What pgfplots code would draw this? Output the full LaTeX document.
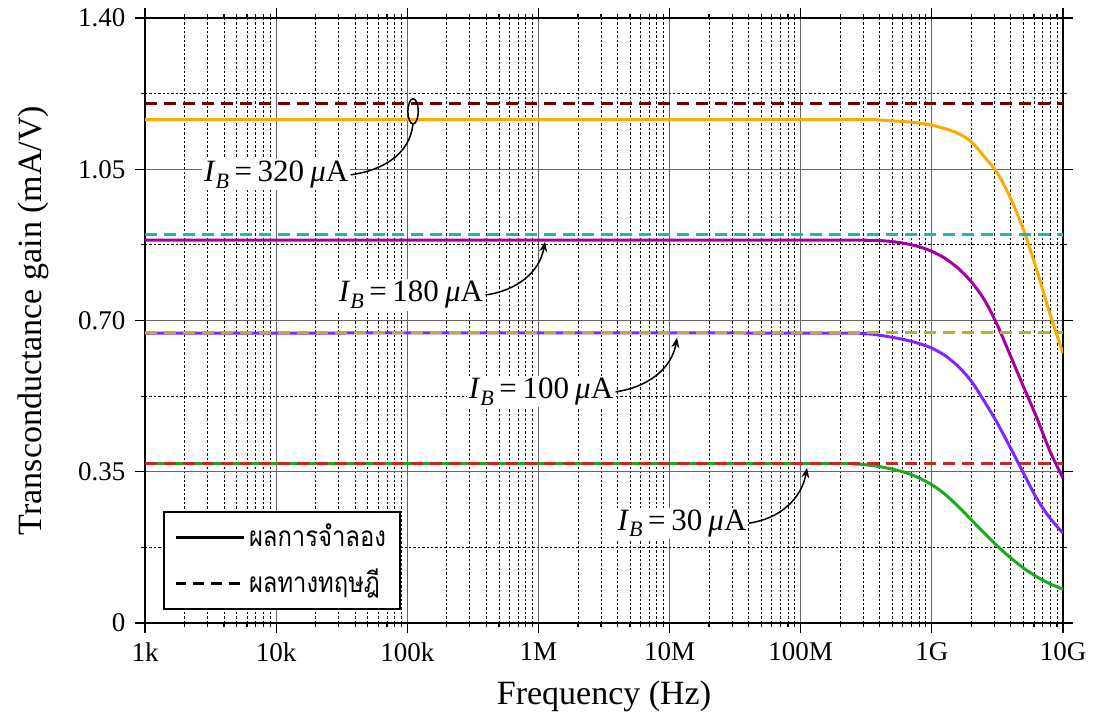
\documentclass[border=0pt]{standalone}
\usepackage{graphicx}
\usepackage{pgfplots}
\pgfplotsset{compat=1.18}
\usepackage{fontspec}
\setmainfont{Liberation Serif}
\newfontfamily\thaifont[Script=Thai]{Loma}
\usetikzlibrary{arrows.meta}

\definecolor{corange}{RGB}{255,170,0}
\definecolor{cmaroon}{RGB}{110,0,0}
\definecolor{cmag}{RGB}{165,0,165}
\definecolor{ccyan}{RGB}{32,180,180}
\definecolor{cviol}{RGB}{125,40,255}
\definecolor{colive}{RGB}{180,180,40}
\definecolor{cgreen}{RGB}{30,170,30}
\definecolor{cred}{RGB}{195,40,40}

\newcommand{\IB}[1]{\textit{I}\raisebox{-0.45ex}{\fontsize{11}{12}\selectfont\textit{B}}\hspace{0.18em}=\hspace{0.18em}#1\hspace{0.2em}\textit{μ}A}
\newcommand{\thtxt}[1]{\scalebox{0.85}[1]{\thaifont #1}}

\begin{document}
\fontsize{14}{16}\selectfont
\begin{tikzpicture}
\begin{axis}[
  scale only axis, width=459pt, height=302.5pt,
  xmode=log, log basis x=10,
  xmin=1e3, xmax=1e10, ymin=0, ymax=1.4,
  xtick={1e3,1e4,1e5,1e6,1e7,1e8,1e9,1e10},
  xticklabels={1k,10k,100k,1M,10M,100M,1G,10G},
  minor xtick={2e3,3e3,4e3,5e3,6e3,7e3,8e3,9e3,
               2e4,3e4,4e4,5e4,6e4,7e4,8e4,9e4,
               2e5,3e5,4e5,5e5,6e5,7e5,8e5,9e5,
               2e6,3e6,4e6,5e6,6e6,7e6,8e6,9e6,
               2e7,3e7,4e7,5e7,6e7,7e7,8e7,9e7,
               2e8,3e8,4e8,5e8,6e8,7e8,8e8,9e8,
               2e9,3e9,4e9,5e9,6e9,7e9,8e9,9e9},
  ytick={0,0.35,0.7,1.05,1.4},
  yticklabels={0,0.35,0.70,1.05,1.40},
  minor y tick num=1,
  grid=both,
  major grid style={black!60, line width=0.6pt},
  minor grid style={black, dash pattern=on 1.2pt off 1pt, line width=0.4pt},
  axis line style={black, line width=0.6pt},
  tick style={black, line width=0.6pt},
  tick align=outside, major tick length=5pt, minor tick length=2pt,
  xlabel={Frequency (Hz)},
  ylabel={Transconductance gain (mA/V)},
  ylabel shift=5pt,
  label style={font=\fontsize{17}{19}\selectfont},
  tick label style={font=\fontsize{13.5}{15}\selectfont},
  legend cell align=left,
  legend image code/.code={\draw[#1] (0pt,0pt) -- (34pt,0pt);},
  legend style={at={(axis description cs:0.0196,0.0215)}, anchor=south west,
    draw=black, line width=1pt, fill=white, inner xsep=5pt, inner ysep=4pt,
    font=\fontsize{14}{17}\selectfont, row sep=5pt},
]
\addlegendimage{black, line width=1.5pt}
\addlegendentry{\thtxt{ผลการจำลอง}}
\addlegendimage{black, line width=1.5pt, dash pattern=on 5.3pt off 3.6pt}
\addlegendentry{\thtxt{ผลทางทฤษฎี}}

% simulated (solid)
\addplot[forget plot, corange, line width=1.5pt, smooth, tension=0.5] coordinates {
(1e3,1.165) (1e8,1.165) (3.162e8,1.165) (3.981e8,1.164) (5.012e8,1.162) (6.310e8,1.160)
(7.943e8,1.157) (1e9,1.152) (1.259e9,1.144) (1.585e9,1.133) (1.995e9,1.114)
(2.512e9,1.079) (3.162e9,1.041) (3.981e9,0.983) (5.012e9,0.909) (6.310e9,0.817)
(7.943e9,0.716) (1e10,0.624)};
\addplot[forget plot, cmag, line width=1.5pt, smooth, tension=0.5] coordinates {
(1e3,0.886) (1e8,0.886) (3.162e8,0.8855) (3.981e8,0.885) (5.012e8,0.8825) (6.310e8,0.878)
(7.943e8,0.871) (1e9,0.860) (1.259e9,0.844) (1.585e9,0.821) (1.995e9,0.790)
(2.512e9,0.748) (3.162e9,0.689) (3.981e9,0.618) (5.012e9,0.546) (6.310e9,0.475)
(7.943e9,0.398) (1e10,0.335)};
\addplot[forget plot, cviol, line width=1.5pt, smooth, tension=0.5] coordinates {
(1e3,0.671) (1e8,0.671) (3.162e8,0.669) (3.981e8,0.666) (5.012e8,0.661) (6.310e8,0.655)
(7.943e8,0.647) (1e9,0.636) (1.259e9,0.619) (1.585e9,0.594) (1.995e9,0.560)
(2.512e9,0.513) (3.162e9,0.462) (3.981e9,0.405) (5.012e9,0.346) (6.310e9,0.288)
(7.943e9,0.243) (1e10,0.208)};
\addplot[forget plot, cgreen, line width=1.5pt, smooth, tension=0.5] coordinates {
(1e3,0.369) (1e8,0.369) (2.512e8,0.368) (3.162e8,0.366) (3.981e8,0.362) (5.012e8,0.356)
(6.310e8,0.348) (7.943e8,0.336) (1e9,0.320) (1.259e9,0.298) (1.585e9,0.270)
(1.995e9,0.239) (2.512e9,0.208) (3.162e9,0.178) (3.981e9,0.151) (5.012e9,0.127)
(6.310e9,0.107) (7.943e9,0.091) (1e10,0.078)};

% theory (dashed)
\addplot[forget plot, cmaroon, line width=1.5pt, dash pattern=on 6pt off 3.5pt] coordinates {(1e3,1.201) (1e10,1.201)};
\addplot[forget plot, ccyan, line width=1.5pt, dash pattern=on 6pt off 3.5pt] coordinates {(1e3,0.900) (1e10,0.900)};
\addplot[forget plot, colive, line width=1.5pt, dash pattern=on 6pt off 3.5pt] coordinates {(1e3,0.673) (1e10,0.673)};
\addplot[forget plot, cred, line width=1.5pt, dash pattern=on 6pt off 3.5pt] coordinates {(1e3,0.369) (1e10,0.369)};

% annotations
\draw[line width=0.75pt] (axis cs:1.107e5,1.184) ellipse[x radius=2.6pt, y radius=6.3pt];
\node[fill=white, inner sep=1pt, font=\fontsize{15.5}{17}\selectfont] (t1) at (axis cs:1e4,1.037) {\IB{320}};
\draw[line width=0.75pt] (t1.east) to[out=8,in=-95] (axis cs:1.107e5,1.157);

\node[fill=white, inner sep=1pt, font=\fontsize{15.5}{17}\selectfont] (t2) at (axis cs:1.067e5,0.759) {\IB{180}};
\draw[line width=0.75pt, -{Stealth[length=5pt,width=4pt]}] (t2.east) to[out=8,in=-100] (axis cs:1.122e6,0.882);

\node[fill=white, inner sep=1pt, font=\fontsize{15.5}{17}\selectfont] (t3) at (axis cs:1.047e6,0.535) {\IB{100}};
\draw[line width=0.75pt, -{Stealth[length=5pt,width=4pt]}] (t3.east) to[out=8,in=-100] (axis cs:1.14e7,0.660);

\node[fill=white, inner sep=1pt, font=\fontsize{15.5}{17}\selectfont] (t4) at (axis cs:1.245e7,0.231) {\IB{30}};
\draw[line width=0.75pt, -{Stealth[length=5pt,width=4pt]}] (t4.east) to[out=8,in=-100] (axis cs:1.117e8,0.359);

\coordinate (sw) at (rel axis cs:0,0);
\coordinate (ne) at (rel axis cs:1,1);
\end{axis}
\pgfresetboundingbox
\path[use as bounding box] ([shift={(-72.5pt,-47.5pt)}]sw) rectangle ([shift={(18.5pt,9pt)}]ne);
\end{tikzpicture}
\end{document}
